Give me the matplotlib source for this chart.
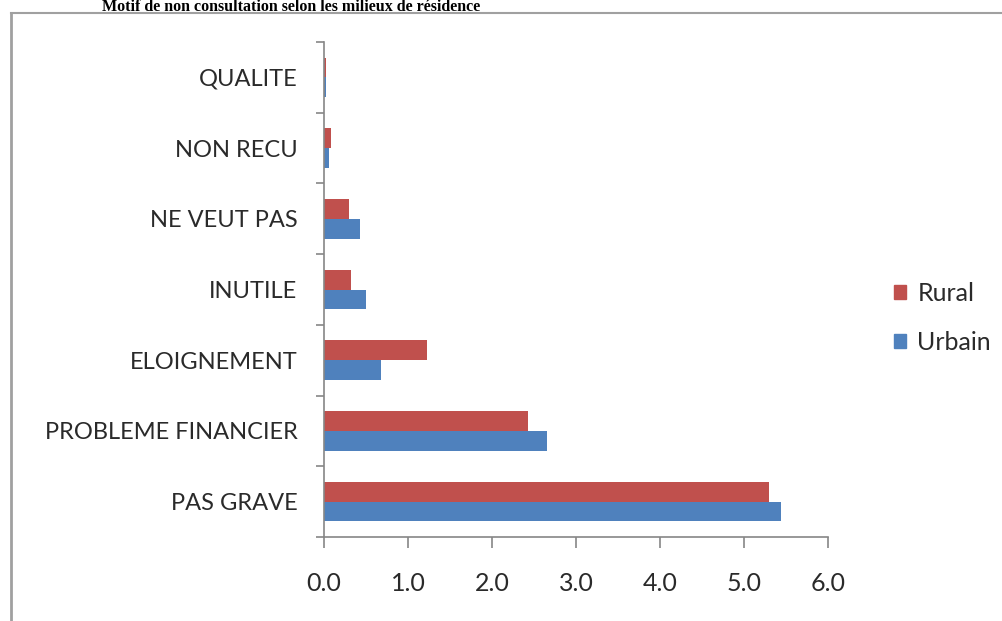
"""Motif de non consultation selon les milieux de residence - horizontal bars."""

import numpy as np
import matplotlib.pyplot as plt
from matplotlib.lines import Line2D
from matplotlib.patches import Patch

categories = ["PAS GRAVE", "PROBLEME FINANCIER", "ELOIGNEMENT", "INUTILE",
              "NE VEUT PAS", "NON RECU", "QUALITE"]
rural = [5.30, 2.43, 1.23, 0.32, 0.30, 0.08, 0.02]
urbain = [5.44, 2.65, 0.68, 0.50, 0.43, 0.06, 0.02]
xticks = [0, 1, 2, 3, 4, 5, 6]

RED = "#C0504D"
BLUE = "#4F81BD"
AXIS = "#868686"
TEXT = "#2a2a2a"
FONT = "Lato"


def main() -> None:
    W, H = 1002, 621
    fig = plt.figure(figsize=(W / 100, H / 100), dpi=100)

    # outer chart frame (only top and left edges visible in the crop)
    fig.add_artist(Line2D([11 / W, 11 / W], [0, 1 - 13 / H], transform=fig.transFigure,
                          color="#a0a0a0", linewidth=2))
    fig.add_artist(Line2D([11 / W, 1], [1 - 13 / H, 1 - 13 / H], transform=fig.transFigure,
                          color="#a0a0a0", linewidth=1.5))
    fig.text(291 / W, 1 - 11 / H, "Motif de non consultation selon les milieux de résidence",
             ha="center", va="baseline", fontsize=11.5, fontweight="bold",
             family="Liberation Serif")

    left, right, top, bottom = 324, 828, 42, 537
    ax = fig.add_axes([left / W, 1 - bottom / H, (right - left) / W, (bottom - top) / H])

    y = np.arange(len(categories))
    h = 0.28
    ax.barh(y + h / 2, rural, height=h, color=RED, label="Rural")
    ax.barh(y - h / 2, urbain, height=h, color=BLUE, label="Urbain")

    ax.set_xlim(0, 6)
    ax.set_ylim(-0.5, len(categories) - 0.5)
    ax.set_xticks(xticks)
    ax.set_xticklabels([f"{v:.1f}" for v in xticks], fontsize=18, family=FONT, color=TEXT)
    ax.set_yticks(y)
    ax.set_yticklabels(categories, fontsize=17, family=FONT, color=TEXT)
    ax.set_yticks(np.arange(len(categories) + 1) - 0.5, minor=True)
    ax.tick_params(axis="y", which="major", length=0, pad=19)
    ax.tick_params(axis="y", which="minor", length=6, color=AXIS, width=1.2)
    ax.tick_params(axis="x", length=8, color=AXIS, width=1.2, pad=17)

    for side in ("top", "right"):
        ax.spines[side].set_visible(False)
    for side in ("left", "bottom"):
        ax.spines[side].set_color(AXIS)
        ax.spines[side].set_linewidth(1.2)

    handles = [Patch(color=RED, label="Rural"), Patch(color=BLUE, label="Urbain")]
    fig.legend(handles=handles, loc="center left", bbox_to_anchor=(871 / W, 1 - 318 / H),
               frameon=False, prop={"family": FONT, "size": 18}, handlelength=0.5,
               handleheight=0.5, handletextpad=0.45, labelspacing=1.05,
               labelcolor=TEXT)

    fig.savefig("out.png", dpi=100)


if __name__ == "__main__":
    main()
